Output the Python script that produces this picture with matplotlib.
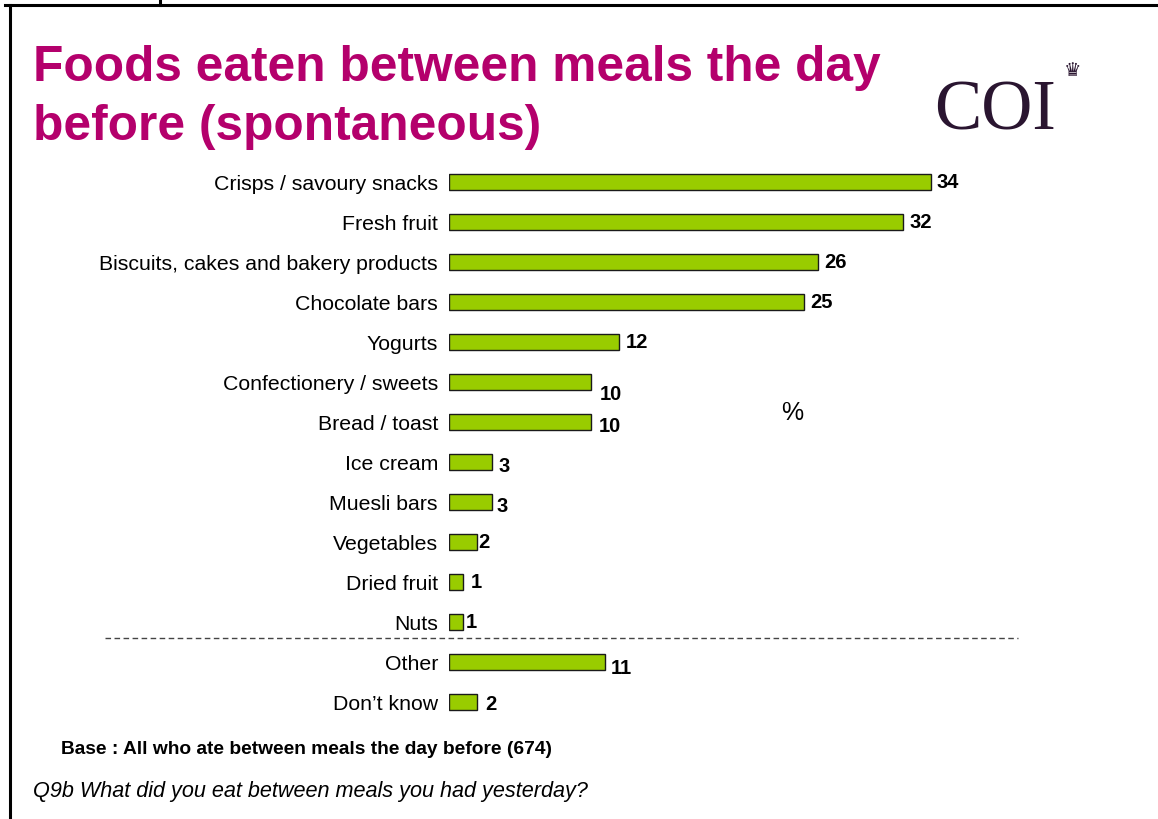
import matplotlib
matplotlib.use("Agg")
import matplotlib.pyplot as plt
from matplotlib.lines import Line2D

# ---- data -------------------------------------------------------------
categories = [
    "Crisps / savoury snacks",
    "Fresh fruit",
    "Biscuits, cakes and bakery products",
    "Chocolate bars",
    "Yogurts",
    "Confectionery / sweets",
    "Bread / toast",
    "Ice cream",
    "Muesli bars",
    "Vegetables",
    "Dried fruit",
    "Nuts",
    "Other",
    "Don\u2019t know",
]
values = [34, 32, 26, 25, 12, 10, 10, 3, 3, 2, 1, 1, 11, 2]

# value-label nudges in pixels (right, down) relative to the bar end
label_dx = [5, 7, 7, 7, 7, 9, 8, 7, 5, 1, 8, 3, 6, 8]
label_dy = [0, 0, 0, 0, 0, 12, 5, 5, 5, 0, 0, 0, 6, 2]

# ---- figure -----------------------------------------------------------
W, H, DPI = 1158, 819, 100
fig = plt.figure(figsize=(W / DPI, H / DPI), dpi=DPI)
fig.patch.set_facecolor("white")

def fx(px):
    return px / W

def fy(py):
    return 1 - py / H

plt.rcParams["font.family"] = ["Liberation Sans", "DejaVu Sans"]

# slide frame (top and left edges)
fig.add_artist(Line2D([fx(5), fx(1158)], [fy(5), fy(5)], color="black", lw=2.2))
fig.add_artist(Line2D([fx(10), fx(10)], [fy(5), fy(819)], color="black", lw=2.2))
fig.add_artist(Line2D([fx(160), fx(160)], [fy(0), fy(5)], color="black", lw=2.2))

# title
title_color = "#B4006C"
fig.text(fx(33), fy(81), "Foods eaten between meals the day", color=title_color,
         fontsize=35.7, fontweight="bold", ha="left", va="baseline")
fig.text(fx(33), fy(140), "before (spontaneous)", color=title_color,
         fontsize=35.7, fontweight="bold", ha="left", va="baseline")

# COI mark
fig.text(fx(934), fy(130), "COI", color="#2A1530", fontsize=51,
         family=["Liberation Serif", "DejaVu Serif"], ha="left", va="baseline")
fig.text(fx(1073), fy(70), "\u265B", color="#2A1530", fontsize=14,
         family=["DejaVu Sans"], ha="center", va="center")

# ---- bar axes ---------------------------------------------------------
px_per_unit = 14.18
ax_left, ax_right = 449, 1010
row_top, row_h = 162, 40
n = len(categories)
ax = fig.add_axes([fx(ax_left), fy(row_top + n * row_h),
                   fx(ax_right - ax_left), (n * row_h) / H])
ax.set_xlim(0, (ax_right - ax_left) / px_per_unit)
ax.set_ylim(n - 0.5, -0.5)
pos = list(range(n))
ax.barh(pos, values, height=0.4, color="#99CC00", edgecolor="#1a1a1a",
        linewidth=1.0, zorder=3)
for i, v in enumerate(values):
    ax.annotate(str(v), xy=(v, i), xytext=(label_dx[i], -label_dy[i]),
                textcoords="offset pixels", ha="left", va="center",
                fontsize=14.5, fontweight="bold", color="black")
ax.set_yticks(pos)
ax.set_yticklabels(categories, fontsize=15.3)
ax.tick_params(axis="y", length=0, pad=8)
ax.set_xticks([])
for s in ax.spines.values():
    s.set_visible(False)
ax.patch.set_alpha(0)

# separator between food items and other answers
fig.add_artist(Line2D([fx(105), fx(1018)], [fy(638), fy(638)], color="#444444",
                      lw=1.0, ls=(0, (4, 2.5))))

fig.text(fx(792), fy(413), "%", fontsize=18, ha="center", va="center")

# footnotes
fig.text(fx(61), fy(750), "Base : All who ate between meals the day before (674)",
         fontsize=13.8, fontweight="bold", ha="left", va="center")
fig.text(fx(33), fy(792), "Q9b What did you eat between meals you had yesterday?",
         fontsize=15.55, style="italic", ha="left", va="center")

fig.savefig("out.png", dpi=DPI)
